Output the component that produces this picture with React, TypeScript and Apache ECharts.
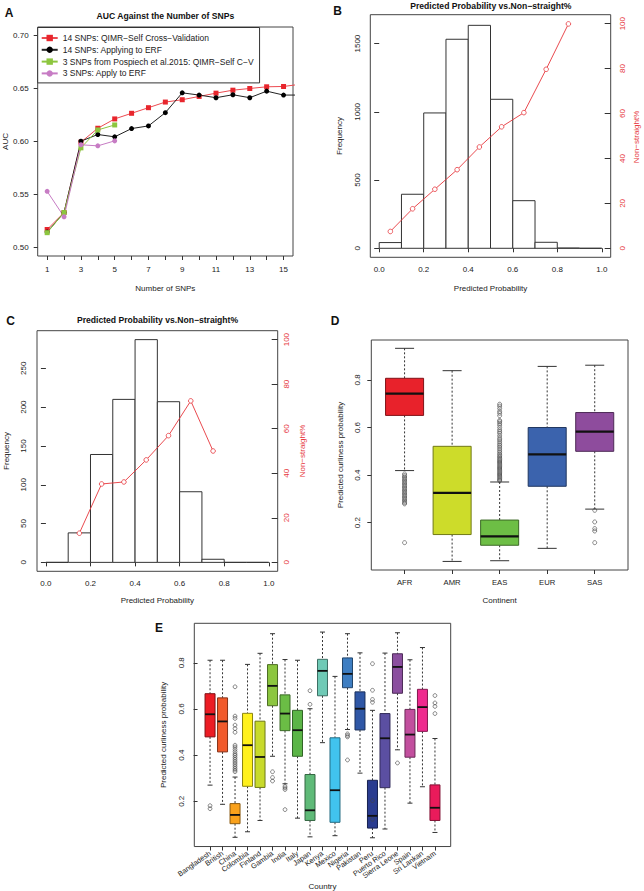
import React, { useEffect, useRef } from 'react';
import * as echarts from 'echarts';

const FONT = '"Liberation Sans", Arial, Helvetica, sans-serif';

// ---------- Panel A ----------
const snpCounts = [1, 2, 3, 4, 5, 6, 7, 8, 9, 10, 11, 12, 13, 14, 15, 16];
const aucQimrCV14 = [0.517, 0.533, 0.5994, 0.6125, 0.6213, 0.6266, 0.6319, 0.6372, 0.6394, 0.6425, 0.6456, 0.6484, 0.650, 0.6516, 0.6519, 0.654];
const aucErf14 = [0.5145, 0.533, 0.6003, 0.6066, 0.6044, 0.6122, 0.6147, 0.6272, 0.6459, 0.6438, 0.6413, 0.6441, 0.6413, 0.6475, 0.6438, 0.6438];
const snpCounts3 = [1, 2, 3, 4, 5];
const aucQimrCV3 = [0.514, 0.533, 0.594, 0.6109, 0.6156];
const aucErf3 = [0.553, 0.529, 0.5969, 0.5959, 0.6006];
const seriesNamesA = [
  '14 SNPs: QIMR\u2212Self Cross\u2212Validation',
  '14 SNPs: Applying to ERF',
  '3 SNPs from Pospiech et al.2015: QIMR\u2212Self C\u2212V',
  '3 SNPs: Apply to ERF',
];
const xTicksA = [1, 2, 3, 4, 5, 6, 7, 8, 9, 10, 11, 12, 13, 14, 15];
const xLabelsA = [1, 3, 5, 7, 9, 11, 13, 15];
const yTicksA = [0.5, 0.55, 0.6, 0.65, 0.7];

// ---------- Panels B and C ----------
const binEdges = [0, 0.1, 0.2, 0.3, 0.4, 0.5, 0.6, 0.7, 0.8, 0.9, 1.0];
const countsB = [42, 396, 992, 1532, 1634, 1092, 349, 44, 2, 0];
const midB = [0.05, 0.15, 0.25, 0.35, 0.45, 0.55, 0.65, 0.75, 0.85];
const nonStraightB = [7.5, 17.6, 26.3, 35.0, 45.1, 54.1, 60.4, 79.7, 99.9];
const countsC = [0, 38, 139, 210, 287, 207, 91, 4, 0, 0];
const midC = [0.15, 0.25, 0.35, 0.45, 0.55, 0.65, 0.75];
const nonStraightC = [13.1, 35.2, 36.1, 46.0, 56.9, 72.5, 50.0];
const probTicks = [0, 0.2, 0.4, 0.6, 0.8, 1.0];
const freqTicksB = [0, 500, 1000, 1500];
const freqTicksC = [0, 50, 100, 150, 200, 250];
const pctTicks = [0, 20, 40, 60, 80, 100];

// ---------- Panel D ----------
const continents = ['AFR', 'AMR', 'EAS', 'EUR', 'SAS'];
const continentColors = ['#e8222b', '#cddc2a', '#6dbe45', '#3b63ad', '#8e4c9d'];
// [lower whisker, Q1, median, Q3, upper whisker]
const continentBoxes = [
  [0.419, 0.651, 0.7425, 0.807, 0.933],
  [0.037, 0.150, 0.325, 0.521, 0.839],
  [0.040, 0.105, 0.142, 0.211, 0.371],
  [0.092, 0.353, 0.487, 0.600, 0.857],
  [0.257, 0.500, 0.583, 0.663, 0.862],
];
const continentOutliers = [
  [0.405, 0.398, 0.392, 0.386, 0.380, 0.374, 0.368, 0.362, 0.356, 0.350, 0.344, 0.338, 0.332, 0.326, 0.320, 0.314, 0.308, 0.302, 0.296, 0.290, 0.284, 0.279, 0.116],
  [],
  [0.698, 0.690, 0.680, 0.668, 0.660, 0.650, 0.630, 0.625, 0.618, 0.610, 0.600, 0.590, 0.582, 0.575, 0.565, 0.555, 0.548, 0.540, 0.532, 0.525, 0.518, 0.510, 0.502, 0.495, 0.488, 0.482, 0.476, 0.470, 0.465, 0.460, 0.455, 0.450, 0.445, 0.440, 0.435, 0.430, 0.425, 0.420, 0.415, 0.410, 0.405, 0.400, 0.395, 0.390, 0.385, 0.380, 0.376],
  [],
  [0.252, 0.203, 0.175, 0.165, 0.116],
];
const probTicksD = [0.2, 0.4, 0.6, 0.8];

// ---------- Panel E ----------
const countries = ['Bangladesh', 'British', 'China', 'Colombia', 'Finland', 'Gambia', 'India', 'Italy', 'Japan', 'Kenya', 'Mexico', 'Nigeria', 'Pakistan', 'Peru', 'Puerto Rico', 'Sierra Leone', 'Spain', 'Sri Lankan', 'Vietnam'];
const countryColors = ['#ec1c24', '#f15a2b', '#f9a11b', '#fff11d', '#c8da2b', '#8cc63f', '#6bbd45', '#5bb547', '#5fba78', '#6fcab6', '#41c3ee', '#3e7ec2', '#2f57a6', '#2a3c90', '#5b4fa2', '#8b4f9f', '#c24f9e', '#ee2a8e', '#ea1b5b'];
const countryBoxes = [
  [0.270, 0.479, 0.577, 0.666, 0.811],
  [0.187, 0.414, 0.546, 0.648, 0.811],
  [0.044, 0.103, 0.141, 0.190, 0.305],
  [0.068, 0.265, 0.443, 0.581, 0.793],
  [0.117, 0.260, 0.392, 0.547, 0.841],
  [0.395, 0.614, 0.700, 0.792, 0.926],
  [0.276, 0.506, 0.580, 0.661, 0.814],
  [0.127, 0.395, 0.508, 0.594, 0.811],
  [0.046, 0.117, 0.161, 0.316, 0.601],
  [0.454, 0.657, 0.765, 0.815, 0.933],
  [0.051, 0.109, 0.248, 0.475, 0.741],
  [0.511, 0.692, 0.752, 0.821, 0.926],
  [0.322, 0.509, 0.601, 0.674, 0.843],
  [0.042, 0.084, 0.137, 0.291, 0.594],
  [0.080, 0.259, 0.473, 0.580, 0.842],
  [0.423, 0.668, 0.782, 0.839, 0.930],
  [0.192, 0.391, 0.489, 0.598, 0.813],
  [0.263, 0.503, 0.608, 0.685, 0.866],
  [0.065, 0.117, 0.172, 0.271, 0.472],
];
const countryOutliers = [
  [0.181, 0.168],
  [],
  [0.696, 0.569, 0.559, 0.530, 0.515, 0.499, 0.443, 0.435, 0.425, 0.415, 0.405, 0.398, 0.390, 0.382, 0.374, 0.366, 0.358, 0.350, 0.342, 0.335, 0.328],
  [],
  [],
  [0.328, 0.303, 0.288],
  [0.265, 0.258, 0.251, 0.164],
  [],
  [0.679, 0.620],
  [],
  [],
  [0.492, 0.485, 0.479, 0.379],
  [],
  [0.796, 0.681, 0.641, 0.629, 0.203, 0.122],
  [],
  [0.366],
  [],
  [],
  [0.658, 0.626, 0.611, 0.580],
];

// ---------- helpers ----------
function darken(hex: string, f = 0.55): string {
  const n = parseInt(hex.slice(1), 16);
  const r = Math.round(((n >> 16) & 255) * f);
  const g = Math.round(((n >> 8) & 255) * f);
  const b = Math.round((n & 255) * f);
  return `rgb(${r},${g},${b})`;
}

const TXT = '#222';
const FRAME = '#444';
const RED = '#e6353b';

function histRender(params: any, api: any) {
  const x0 = api.value(0), x1 = api.value(1), c = api.value(2);
  const a = api.coord([x0, c]);
  const b = api.coord([x1, 0]);
  return {
    type: 'polygon',
    shape: { points: [[a[0], b[1]], [a[0], a[1]], [b[0], a[1]], [b[0], b[1]]] },
    style: { fill: '#fff', stroke: '#333', lineWidth: 1 },
  };
}

function boxRender(colors: string[], medianWidth: number) {
  return (params: any, api: any) => {
    const x = api.value(0);
    const lo = api.value(1), q1 = api.value(2), med = api.value(3), q3 = api.value(4), hi = api.value(5);
    const pHi = api.coord([x, hi]);
    const pQ3 = api.coord([x, q3]);
    const pMed = api.coord([x, med]);
    const pQ1 = api.coord([x, q1]);
    const pLo = api.coord([x, lo]);
    const w = api.size([0.8, 0])[0];
    const half = w / 2;
    const cap = w / 4;
    const cx = pMed[0];
    const fill = colors[params.dataIndex];
    const dash = { stroke: '#333', lineWidth: 1, lineDash: [2, 2] };
    const solid = { stroke: '#333', lineWidth: 1 };
    return {
      type: 'group',
      children: [
        { type: 'line', shape: { x1: cx, y1: pHi[1], x2: cx, y2: pQ3[1] }, style: dash },
        { type: 'line', shape: { x1: cx, y1: pQ1[1], x2: cx, y2: pLo[1] }, style: dash },
        { type: 'line', shape: { x1: cx - cap, y1: pHi[1], x2: cx + cap, y2: pHi[1] }, style: solid },
        { type: 'line', shape: { x1: cx - cap, y1: pLo[1], x2: cx + cap, y2: pLo[1] }, style: solid },
        { type: 'rect', shape: { x: cx - half, y: pQ3[1], width: w, height: pQ1[1] - pQ3[1] }, style: { fill, stroke: darken(fill), lineWidth: 1 } },
        { type: 'line', shape: { x1: cx - half, y1: pMed[1], x2: cx + half, y2: pMed[1] }, style: { stroke: '#111', lineWidth: medianWidth } },
      ],
    };
  };
}

const tickStyle = { lineStyle: { color: '#333', width: 1 } };
const labelBase = { fontSize: 8, fontFamily: FONT, color: TXT };
const nameBase = { fontSize: 8, fontFamily: FONT, color: TXT };

function panelText(text: string, x: number, y: number, size: number, bold = true, color = '#111', rotation = 0) {
  return {
    type: 'text',
    x,
    y,
    rotation,
    silent: true,
    style: {
      text,
      fill: color,
      fontSize: size,
      fontWeight: bold ? 'bold' : 'normal',
      fontFamily: FONT,
      textAlign: 'center',
      textVerticalAlign: 'middle',
    },
  };
}

export default function App() {
  const ref = useRef<HTMLDivElement>(null);

  useEffect(() => {
    document.body.style.margin = '0';
    if (!ref.current) return;
    const chart = echarts.init(ref.current, null, { renderer: 'svg' });

    const gridBase = { show: true, borderColor: FRAME, borderWidth: 1, backgroundColor: 'transparent', containLabel: false };
    const redLine = {
      symbol: 'circle', symbolSize: 4.6,
      itemStyle: { color: '#fff', borderColor: RED, borderWidth: 0.8 },
      lineStyle: { color: RED, width: 0.9 },
    };

    const option: any = {
      animation: false,
      backgroundColor: '#fff',
      textStyle: { fontFamily: FONT },
      grid: [
        { ...gridBase, left: 37.7, top: 27, width: 255.3, height: 229 },
        { ...gridBase, left: 370.3, top: 14.7, width: 240.4, height: 242.6 },
        { ...gridBase, left: 37, top: 330.7, width: 240.7, height: 240.6 },
        { ...gridBase, left: 371.3, top: 340, width: 256.7, height: 230 },
        { ...gridBase, left: 194.3, top: 623.3, width: 256.4, height: 230 },
      ],
      legend: {
        data: seriesNamesA,
        orient: 'vertical',
        left: 37.7,
        top: 27.5,
        padding: [6, 6, 5, 3],
        itemWidth: 16,
        itemHeight: 8,
        itemGap: 2.8,
        borderColor: '#333',
        borderWidth: 1,
        borderRadius: 0,
        backgroundColor: '#fff',
        selectedMode: false,
        textStyle: { fontSize: 8.5, fontFamily: FONT, color: TXT },
      },
      xAxis: [
        {
          type: 'value', gridIndex: 0, min: 0.44, max: 15.56,
          axisLine: { show: false }, splitLine: { show: false },
          axisTick: { show: true, customValues: xTicksA, length: 4, ...tickStyle },
          axisLabel: { ...labelBase, customValues: xLabelsA, margin: 9, formatter: (v: number) => String(Math.round(v)) },
          name: 'Number of SNPs', nameLocation: 'middle', nameGap: 28, nameTextStyle: nameBase,
        },
        {
          type: 'value', gridIndex: 1, min: -0.04, max: 1.04,
          axisLine: { show: false }, splitLine: { show: false },
          axisTick: { show: true, customValues: probTicks, length: 4, ...tickStyle },
          axisLabel: { ...labelBase, customValues: probTicks, margin: 8, formatter: (v: number) => v.toFixed(1) },
          name: 'Predicted Probability', nameLocation: 'middle', nameGap: 27, nameTextStyle: nameBase,
        },
        {
          type: 'value', gridIndex: 2, min: -0.04, max: 1.04,
          axisLine: { show: false }, splitLine: { show: false },
          axisTick: { show: true, customValues: probTicks, length: 4, ...tickStyle },
          axisLabel: { ...labelBase, customValues: probTicks, margin: 8, formatter: (v: number) => v.toFixed(1) },
          name: 'Predicted Probability', nameLocation: 'middle', nameGap: 25, nameTextStyle: nameBase,
        },
        {
          type: 'value', gridIndex: 3, min: 0.3, max: 5.7,
          axisLine: { show: false }, splitLine: { show: false },
          axisTick: { show: true, customValues: [1, 2, 3, 4, 5], length: 4, ...tickStyle },
          axisLabel: { ...labelBase, fontSize: 7.7, customValues: [1, 2, 3, 4, 5], margin: 8, formatter: (v: number) => continents[Math.round(v) - 1] },
          name: 'Continent', nameLocation: 'middle', nameGap: 26, nameTextStyle: nameBase,
        },
        {
          type: 'value', gridIndex: 4, min: -0.26, max: 20.26,
          axisLine: { show: false }, splitLine: { show: false },
          axisTick: { show: true, customValues: countries.map((_, i) => i + 1), length: 4, ...tickStyle },
          axisLabel: { ...labelBase, fontSize: 7.3, rotate: 35, customValues: countries.map((_, i) => i + 1), margin: 6, formatter: (v: number) => countries[Math.round(v) - 1] },
          name: 'Country', nameLocation: 'middle', nameGap: 28, nameTextStyle: nameBase,
        },
      ],
      yAxis: [
        {
          type: 'value', gridIndex: 0, min: 0.492, max: 0.708,
          axisLine: { show: false }, splitLine: { show: false },
          axisTick: { show: true, customValues: yTicksA, length: 4, ...tickStyle },
          axisLabel: { ...labelBase, customValues: yTicksA, margin: 9, formatter: (v: number) => v.toFixed(2) },
          name: 'AUC', nameLocation: 'middle', nameGap: 27, nameTextStyle: nameBase,
        },
        {
          type: 'value', gridIndex: 1, min: -66, max: 1712,
          axisLine: { show: false }, splitLine: { show: false },
          axisTick: { show: true, customValues: freqTicksB, length: 5, ...tickStyle },
          axisLabel: { ...labelBase, customValues: freqTicksB, rotate: 90, margin: 9, formatter: (v: number) => String(Math.round(v)) },
          name: 'Frequency', nameLocation: 'middle', nameGap: 26.5, nameTextStyle: nameBase,
        },
        {
          type: 'value', gridIndex: 1, min: -4, max: 104, position: 'right',
          axisLine: { show: false }, splitLine: { show: false },
          axisTick: { show: true, inside: true, customValues: pctTicks, length: 6, ...tickStyle },
          axisLabel: { ...labelBase, color: RED, customValues: pctTicks, rotate: 90, margin: 8, formatter: (v: number) => String(Math.round(v)) },
        },
        {
          type: 'value', gridIndex: 2, min: -11.5, max: 298.5,
          axisLine: { show: false }, splitLine: { show: false },
          axisTick: { show: true, customValues: freqTicksC, length: 5, ...tickStyle },
          axisLabel: { ...labelBase, customValues: freqTicksC, rotate: 90, margin: 9.5, formatter: (v: number) => String(Math.round(v)) },
          name: 'Frequency', nameLocation: 'middle', nameGap: 27, nameTextStyle: nameBase,
        },
        {
          type: 'value', gridIndex: 2, min: -4, max: 104, position: 'right',
          axisLine: { show: false }, splitLine: { show: false },
          axisTick: { show: true, inside: true, customValues: pctTicks, length: 6, ...tickStyle },
          axisLabel: { ...labelBase, color: RED, customValues: pctTicks, rotate: 90, margin: 5, formatter: (v: number) => String(Math.round(v)) },
        },
        {
          type: 'value', gridIndex: 3, min: 0.001, max: 0.968,
          axisLine: { show: false }, splitLine: { show: false },
          axisTick: { show: true, customValues: probTicksD, length: 4, ...tickStyle },
          axisLabel: { ...labelBase, customValues: probTicksD, rotate: 90, margin: 10, formatter: (v: number) => v.toFixed(1) },
          name: 'Predicted curliness probability', nameLocation: 'middle', nameGap: 27, nameTextStyle: nameBase,
        },
        {
          type: 'value', gridIndex: 4, min: 0.004, max: 0.971,
          axisLine: { show: false }, splitLine: { show: false },
          axisTick: { show: true, customValues: probTicksD, length: 4, ...tickStyle },
          axisLabel: { ...labelBase, customValues: probTicksD, rotate: 90, margin: 8.5, formatter: (v: number) => v.toFixed(1) },
          name: 'Predicted curliness probability', nameLocation: 'middle', nameGap: 27, nameTextStyle: nameBase,
        },
      ],
      series: [
        // Panel A
        {
          name: seriesNamesA[0], type: 'line', xAxisIndex: 0, yAxisIndex: 0, clip: true,
          data: snpCounts.map((x, i) => [x, aucQimrCV14[i]]),
          symbol: 'rect', symbolSize: 5, color: '#e8262d',
          itemStyle: { color: '#e8262d' }, lineStyle: { color: '#ec4a50', width: 1 },
        },
        {
          name: seriesNamesA[1], type: 'line', xAxisIndex: 0, yAxisIndex: 0, clip: true,
          data: snpCounts.map((x, i) => [x, aucErf14[i]]),
          symbol: 'circle', symbolSize: 5, color: '#000',
          itemStyle: { color: '#000' }, lineStyle: { color: '#222', width: 1 },
        },
        {
          name: seriesNamesA[2], type: 'line', xAxisIndex: 0, yAxisIndex: 0, clip: true,
          data: snpCounts3.map((x, i) => [x, aucQimrCV3[i]]),
          symbol: 'rect', symbolSize: 5, color: '#8dc63f',
          itemStyle: { color: '#8dc63f' }, lineStyle: { color: '#8dc63f', width: 1 },
        },
        {
          name: seriesNamesA[3], type: 'line', xAxisIndex: 0, yAxisIndex: 0, clip: true,
          data: snpCounts3.map((x, i) => [x, aucErf3[i]]),
          symbol: 'circle', symbolSize: 5, color: '#c77cc4',
          itemStyle: { color: '#c77cc4' }, lineStyle: { color: '#c77cc4', width: 1 },
        },
        // Panel B
        {
          type: 'custom', xAxisIndex: 1, yAxisIndex: 1,
          data: countsB.map((c, i) => [binEdges[i], binEdges[i + 1], c]),
          renderItem: histRender,
        },
        {
          type: 'line', xAxisIndex: 1, yAxisIndex: 2,
          data: midB.map((x, i) => [x, nonStraightB[i]]),
          ...redLine,
        },
        // Panel C
        {
          type: 'custom', xAxisIndex: 2, yAxisIndex: 3,
          data: countsC.map((c, i) => [binEdges[i], binEdges[i + 1], c]),
          renderItem: histRender,
        },
        {
          type: 'line', xAxisIndex: 2, yAxisIndex: 4,
          data: midC.map((x, i) => [x, nonStraightC[i]]),
          ...redLine,
        },
        // Panel D
        {
          type: 'custom', xAxisIndex: 3, yAxisIndex: 5,
          data: continentBoxes.map((b, i) => [i + 1, ...b]),
          renderItem: boxRender(continentColors, 2.2),
        },
        {
          type: 'scatter', xAxisIndex: 3, yAxisIndex: 5,
          data: continentOutliers.flatMap((arr, i) => arr.map((v) => [i + 1, v])),
          symbol: 'circle', symbolSize: 4,
          itemStyle: { color: 'rgba(0,0,0,0)', borderColor: '#444', borderWidth: 0.8 },
        },
        // Panel E
        {
          type: 'custom', xAxisIndex: 4, yAxisIndex: 6,
          data: countryBoxes.map((b, i) => [i + 1, ...b]),
          renderItem: boxRender(countryColors, 1.8),
        },
        {
          type: 'scatter', xAxisIndex: 4, yAxisIndex: 6,
          data: countryOutliers.flatMap((arr, i) => arr.map((v) => [i + 1, v])),
          symbol: 'circle', symbolSize: 3.8,
          itemStyle: { color: 'rgba(0,0,0,0)', borderColor: '#444', borderWidth: 0.8 },
        },
      ],
      graphic: [
        panelText('A', 9, 13, 12),
        panelText('B', 337.5, 11, 12),
        panelText('C', 10.5, 321.3, 12),
        panelText('D', 335, 320.5, 12),
        panelText('E', 159, 627.5, 12),
        panelText('AUC Against the Number of SNPs', 165.4, 16.3, 8.6),
        panelText('Predicted Probability vs.Non\u2212straight%', 490.8, 6, 8.6),
        panelText('Predicted Probability vs.Non\u2212straight%', 157.5, 319.7, 8.6),
        panelText('Non\u2212straight%', 636, 137, 8, false, RED, Math.PI / 2),
        panelText('Non\u2212straight%', 302, 451, 8, false, RED, Math.PI / 2),
      ],
    };

    chart.setOption(option);
    return () => chart.dispose();
  }, []);

  return <div ref={ref} style={{ width: 644, height: 891 }} />;
}
